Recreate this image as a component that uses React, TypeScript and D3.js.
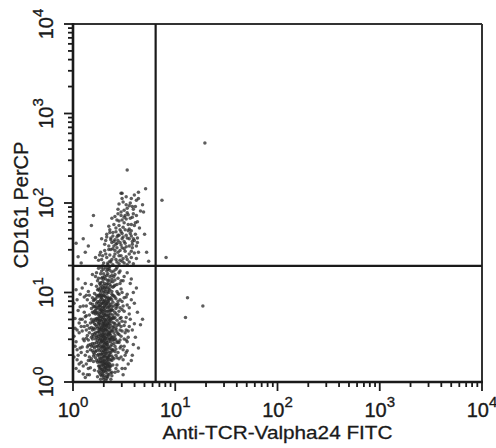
import React from 'react';
import * as d3 from 'd3';

const W = 496;
const H = 448;

const decadeTicks = [1, 10, 100, 1000, 10000];
const decadeExponents = ['0', '1', '2', '3', '4'];
const xTitle = 'Anti-TCR-Valpha24 FITC';
const yTitle = 'CD161 PerCP';
const gateFITC = 6.43;
const gatePerCP = 19.8;

// Events in hundredths of a decade: [log10(FITC)*100, log10(PerCP)*100]
const lowerPopulation: [number, number][] = [
  [28,45],[33,62],[21,38],[40,71],[25,88],[31,20],[36,54],[19,67],[44,33],[27,95],
  [30,12],[23,50],[38,81],[34,27],[26,73],[42,58],[29,104],[17,42],[35,91],[32,36],
  [24,60],[39,47],[22,85],[37,18],[31,77],[45,64],[20,29],[33,99],[28,55],[41,40],
  [26,15],[36,69],[18,82],[30,44],[43,86],[25,31],[34,110],[29,65],[38,24],[22,93],
  [35,52],[27,8],[40,96],[31,59],[16,55],[33,79],[46,47],[24,22],[37,63],[28,102],
  [21,70],[39,35],[30,90],[26,41],[44,75],[32,16],[19,48],[36,85],[29,28],[41,108],
  [25,66],[34,38],[23,97],[38,57],[31,25],[27,81],[42,30],[20,60],[35,74],[30,50],
  [47,62],[22,34],[33,88],[28,14],[37,45],[24,78],[40,55],[32,68],[18,26],[29,92],
  [36,20],[26,57],[43,101],[31,37],[21,84],[39,72],[28,46],[34,6],[25,104],[41,49],
  [30,76],[17,36],[35,64],[27,23],[44,87],[23,52],[38,98],[32,43],[26,69],[33,13],
  [29,117],[36,125],[24,113],[41,120],[32,128],[27,108],[38,115],[45,122],[22,118],[34,106],
  [30,84],[26,97],[37,33],[23,44],[40,66],[28,72],[33,51],[20,77],[35,28],[42,93],
  [31,63],[25,25],[39,89],[29,39],[46,71],[22,64],[36,48],[32,95],[27,31],[43,56],
  [34,83],[19,53],[38,11],[30,67],[24,90],[41,78],[28,19],[35,100],[26,61],[33,46],
  [21,79],[37,94],[31,29],[45,53],[27,86],[23,40],[39,61],[32,106],[29,57],[36,17],
  [25,49],[42,82],[30,35],[34,73],[20,91],[38,42],[28,68],[44,99],[26,10],[33,58],
  [37,76],[31,47],[23,71],[40,26],[29,83],[35,39],[24,103],[32,21],[28,94],[41,65],
  [27,52],[34,65],[22,27],[39,80],[30,100],[36,60],[25,85],[43,44],[31,70],[19,58],
  [33,32],[28,80],[38,71],[24,46],[35,93],[30,24],[26,66],[42,37],[32,87],[37,52],
  [29,74],[21,43],[36,103],[27,59],[40,47],[34,18],[23,82],[31,96],[45,79],[25,37],
  [33,119],[28,124],[39,112],[25,127],[44,116],[31,110],[36,129],[42,126],[30,121],[35,114],
  [27,111],[40,118],[34,126],[47,113],[29,130],[37,107],[23,122],[32,115],[43,109],[38,123],
  [30,5],[34,9],[27,3],[38,7],[25,12],[32,2],[36,14],[29,8],[41,11],[33,4],
  [26,18],[35,21],[31,16],[39,19],[28,22],[37,3],[24,6],[33,24],[30,17],[42,15],
  [3,45],[8,62],[12,30],[5,80],[10,18],[2,71],[14,52],[7,38],[11,95],[4,25],
  [9,57],[13,74],[6,12],[1,88],[12,67],[8,33],[3,103],[15,41],[6,55],[10,9],
  [2,60],[13,20],[7,84],[11,46],[4,36],[14,92],[9,70],[5,115],[12,5],[1,28],
  [16,75],[14,34],[17,88],[15,15],[16,60],[13,49],[17,24],[15,101],[18,40],[16,8],
  [50,40],[55,62],[49,85],[58,30],[52,72],[61,50],[48,100],[54,20],[63,78],[51,55],
  [57,92],[49,25],[66,64],[53,45],[60,88],[48,68],[56,110],[51,15],[64,38],[50,118],
  [47,28],[52,95],[58,58],[49,8],[55,76],[62,105],[50,48],[68,70],[53,122],[59,42],
  [30,60],[27,44],[33,70],[29,33],[35,55],[25,75],[32,40],[28,88],[36,66],[31,52],
  [26,35],[34,90],[30,28],[37,80],[24,56],[33,63],[29,47],[31,85],[27,69],[35,30],
  [32,75],[28,50],[34,42],[30,97],[26,81],[36,37],[29,62],[33,54],[31,34],[27,92],
  [35,68],[30,72],[28,38],[32,58],[34,101],[25,64],[31,43],[29,79],[36,48],[33,86],
  [28,26],[32,64],[30,53],[26,90],[34,34],[29,70],[31,80],[27,48],[35,76],[30,40],
  [22,55],[38,67],[24,30],[39,50],[21,99],[40,85],[23,62],[37,25],[20,40],[41,72],
  [24,71],[38,92],[22,48],[39,36],[23,88],[37,57],[21,65],[40,43],[25,97],[36,79],
  [20,84],[42,60],[19,35],[44,90],[18,70],[43,27],[21,54],[45,66],[20,23],[46,38],
  [27,105],[33,109],[29,112],[35,104],[31,118],[26,102],[38,101],[30,108],[34,113],[28,116],
  [32,11],[28,12],[35,8],[30,20],[33,27],[27,16],[31,7],[36,25],[29,14],[34,19],
  [14,63],[47,51],[19,94],[52,33],[16,28],[50,79],[13,85],[48,15],[18,109],[54,57],
  [15,47],[46,92],[17,16],[51,67],[12,73],[49,36],[16,97],[53,86],[14,39],[47,104],
  [19,78],[45,26],[13,58],[50,63],[18,50],[48,81],[15,24],[52,47],[17,66],[46,110],
  [21,13],[43,19],[23,107],[44,12],[19,120],[46,124],[21,31],[42,47],[22,76],[43,69],
  [37,87],[23,35],[39,27],[20,68],[41,95],[26,53],[35,17],[24,83],[38,50],[27,64],
  [31,91],[33,37],[29,53],[35,84],[25,43],[37,70],[27,99],[32,49],[30,63],[34,57],
  [28,77],[36,93],[26,28],[31,55],[33,75],[29,41],[35,61],[27,73],[32,83],[30,46],
  [34,66],[28,59],[36,30],[26,47],[31,101],[33,42],[29,88],[37,40],[25,70],[32,32],
  [30,81],[34,49],[28,97],[36,72],[26,59],[31,38],[33,93],[29,23],[35,45],[27,78],
  [32,69],[30,57],[34,79],[28,31],[36,55],[26,85],[31,66],[33,20],[29,96],[35,88],
  [40,62],[22,80],[41,34],[24,95],[39,75],[23,24],[42,87],[21,59],[40,107],[25,18],
  [38,36],[22,69],[41,52],[24,40],[39,97],[23,77],[43,63],[20,51],[38,84],[25,56],
  [44,45],[19,87],[42,76],[20,33],[45,98],[18,61],[43,84],[21,92],[44,54],[19,43],
  [30,115],[36,118],[27,121],[39,106],[33,124],[41,114],[29,106],[35,127],[25,116],[32,103],
  [37,112],[28,128],[40,124],[26,110],[34,121],[31,105],[38,119],[43,128],[30,126],[36,109],
  [29,10],[33,15],[31,22],[35,13],[27,26],[37,10],[32,29],[30,3],[34,23],[28,7],
  [36,33],[30,31],[28,35],[34,26],[32,18],[26,22],[38,29],[31,13],[33,6],[29,19],
  [24,68],[39,58],[32,60],[27,39],[35,71],[30,88],[29,51],[34,95],[26,76],[37,48],
  [31,74],[33,44],[28,61],[36,81],[25,51],[32,90],[30,65],[34,53],[27,84],[31,49],
  [48,57],[53,98],[47,40],[56,70],[49,113],[54,50],[46,83],[57,24],[48,90],[60,65],
  [51,30],[46,58],[55,83],[47,72],[59,100],[52,58],[45,44],[57,115],[50,94],[53,35],
  [6,66],[10,48],[4,92],[8,22],[11,78],[5,30],[9,105],[3,15],[13,97],[7,70],
  [2,40],[10,85],[6,20],[12,110],[4,58],[9,39],[7,98],[11,62],[1,51],[14,8]
];

const upperPopulation: [number, number][] = [
  [30,133],[38,137],[45,132],[52,140],[27,145],[41,143],[35,148],[48,135],[57,146],[33,139],
  [43,150],[25,136],[50,149],[39,131],[62,138],[36,142],[46,147],[29,141],[55,134],[42,137],
  [60,144],[31,147],[47,141],[37,134],[53,131],[44,145],[22,139],[58,150],[34,133],[49,138],
  [35,152],[44,158],[51,155],[39,163],[28,160],[56,166],[47,153],[42,168],[60,158],[33,165],
  [49,162],[38,156],[54,169],[45,164],[31,154],[63,161],[41,159],[52,151],[36,167],[58,154],
  [46,170],[40,152],[55,160],[32,158],[48,166],[62,152],[43,155],[57,163],[37,161],[50,157],
  [42,172],[50,178],[55,171],[38,183],[47,186],[60,175],[45,180],[53,189],[40,176],[58,184],
  [49,173],[44,188],[63,179],[52,182],[35,174],[57,176],[48,181],[41,185],[65,172],[54,187],
  [50,192],[58,196],[45,199],[62,203],[53,194],[48,205],[66,191],[56,200],[60,209],[44,193],
  [68,198],[52,207],[59,193],[47,211],[64,205],
  [34,131],[46,136],[40,140],[55,143],[28,137],[51,146],[43,134],[37,148],[59,132],[32,143],
  [48,150],[26,142],[53,137],[41,147],[64,145],[36,135],[45,141],[57,139],[39,149],[50,133],
  [42,154],[53,161],[37,159],[47,168],[58,157],[33,162],[44,164],[61,165],[40,157],[51,170],
  [55,152],[36,170],[48,160],[63,156],[46,156],[39,167],[57,169],[43,162],[52,164],[59,160],
  [45,175],[56,183],[51,186],[61,178],[43,181],[54,176],[47,190],[59,188],[50,184],[62,186],
  [55,197],[49,201],[61,196],[57,205],[64,212],[52,198],
  [5,140],[10,160],[15,152],[8,133],[18,175],[12,145],[20,186],[3,155],
  [70,165],[72,145],[69,190],[74,135],[53,237],[71,216],[48,211]
];

const outliers: [number, number][] = [
  [129,267],[91,139],[87,203],[112,94],[127,85],[110,72]
];

const toValue = (c: number) => Math.pow(10, c / 100);

export default function App() {
  const left = 73, right = 482, top = 24, bottom = 382;
  const x = d3.scaleLog().domain([1, 10000]).range([left, right]);
  const y = d3.scaleLog().domain([1, 10000]).range([bottom, top]);
  const minor = x.ticks();
  const isMajor = (v: number) => Math.abs(Math.log10(v) - Math.round(Math.log10(v))) < 1e-9;
  const events = [...lowerPopulation, ...upperPopulation, ...outliers];
  const font = '"Liberation Sans", Arial, Helvetica, sans-serif';
  const ink = '#1a1a1a';

  return (
    <svg width={W} height={H} style={{ position: 'absolute', left: 0, top: 0, background: '#fff' }} fontFamily={font}>
      <rect x={0} y={0} width={W} height={H} fill="#fff" />
      {/* events */}
      <g fill="#2a2a2a" fillOpacity={0.76}>
        {events.map(([cx, cy], i) => (
          <circle key={i} cx={x(toValue(cx))} cy={y(toValue(cy))} r={1.75} />
        ))}
      </g>
      {/* frame */}
      <line x1={left} x2={right} y1={top} y2={top} stroke="#333" strokeWidth={2} />
      <line x1={right} x2={right} y1={top} y2={bottom} stroke="#333" strokeWidth={2} />
      <line x1={left} x2={left} y1={top - 1} y2={bottom + 1} stroke={ink} strokeWidth={2.6} />
      <line x1={left - 1} x2={right + 1} y1={bottom} y2={bottom} stroke={ink} strokeWidth={2.6} />
      {/* quadrant gates */}
      <line x1={x(gateFITC)} x2={x(gateFITC)} y1={top} y2={bottom} stroke={ink} strokeWidth={2.2} />
      <line x1={left} x2={right} y1={y(gatePerCP)} y2={y(gatePerCP)} stroke={ink} strokeWidth={2.2} />
      {/* ticks */}
      {minor.map((v, i) => {
        const len = isMajor(v) ? 9 : 5;
        return (
          <g key={i} stroke={ink} strokeWidth={1.8}>
            <line x1={x(v)} x2={x(v)} y1={bottom} y2={bottom + len} />
            <line x1={left - len} x2={left} y1={y(v)} y2={y(v)} />
          </g>
        );
      })}
      {/* x tick labels */}
      {decadeTicks.map((v, i) => (
        <text key={'xl' + i} x={x(v)} y={417} textAnchor="middle" fontSize={20} fill={ink}
          stroke={ink} strokeWidth={0.35}>
          <tspan>10</tspan>
          <tspan dy={-10} fontSize={15}>{decadeExponents[i]}</tspan>
        </text>
      ))}
      {/* y tick labels */}
      {decadeTicks.map((v, i) => (
        <text key={'yl' + i} transform={`translate(53,${y(v)}) rotate(-90)`} textAnchor="middle" fontSize={20} fill={ink}
          stroke={ink} strokeWidth={0.35}>
          <tspan>10</tspan>
          <tspan dy={-10} fontSize={15}>{decadeExponents[i]}</tspan>
        </text>
      ))}
      <text x={(left + right) / 2} y={439} textAnchor="middle" fontSize={19} fill={ink}
        stroke={ink} strokeWidth={0.3}
        textLength={230} lengthAdjust="spacingAndGlyphs">{xTitle}</text>
      <text transform={`translate(28,205) rotate(-90)`} textAnchor="middle" fontSize={20} fill={ink}
        stroke={ink} strokeWidth={0.3}>{yTitle}</text>
    </svg>
  );
}
